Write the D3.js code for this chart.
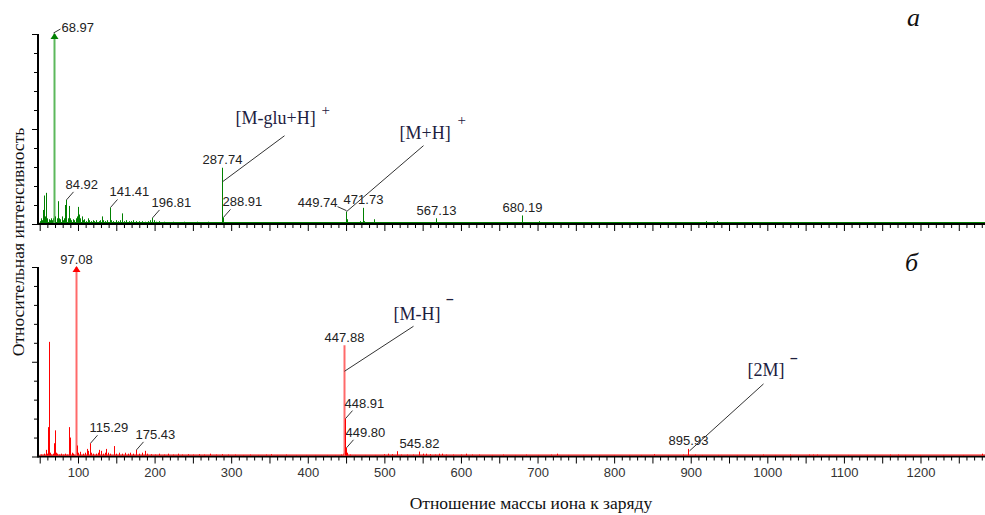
<!DOCTYPE html>
<html><head><meta charset="utf-8">
<script src="https://cdn.jsdelivr.net/npm/d3@7"></script>
<style>
html,body{margin:0;padding:0;background:#fff;}
svg{display:block;}
</style>
</head><body>
<svg id="c" width="985" height="515"></svg>
<script>
// ---------- DATA ----------
// Panel a (positive ions): m/z and relative intensity (%)
const mzA = [50.5,52,53.5,54.7,56,57.5,58.6,60,61.5,63,64.5,66,67.5,68.97,70.5,72,74.3,75.5,77,78.5,80,81.5,82.6,84,84.92,86.5,87.8,89,91,93,95,97,98.5,100,101.5,103,104.8,106.5,108,110,113,115,117,119,121,124,127,129,131,133,135,138,141.41,143,146,149,152,155,157.4,160,163,166,169,172,176,180,184,188,192,194,196.81,199,202,206,212,218,224,230,238,246,255,262,270,278,287.74,288.91,292,300,310,322,333,346,358,372,385,398,412,425,437,446,449.74,451,456,462,468,471.73,474,480,486,495,505,518,530,545,558,567.13,576,590,605,620,636,650,665,680.19,690,702,715,730,755,774,800,830,860,890,920,934,960,990,1020,1050,1080,1110,1140,1170,1200,1230,1260];
const intA = [1.5,3,2,7.4,15,4,16.4,3,2.5,2,3,2,3,100,4,3,12,3,2.5,4,2,3,10,4,12.7,3,9.5,3,2,2.5,2,3,4,9,5,3,4,2,2.5,1.5,3,2,1.5,2,1.5,2,1.5,2,4,2,1.5,2,8.7,2,1.5,2,1.5,2,5.6,1.5,2,1.5,1.5,2,1.5,1.5,1.5,1.2,1.5,2,3.2,2,1.2,1.5,1.2,1,1.2,1,1.2,1,1.2,1,1.2,1,29.6,3.5,1,1,1,0.8,1,0.8,1,0.8,1,0.8,1,0.8,1,1,6.5,2.5,1,1,1.5,8.5,1.5,1,2.5,1,0.8,1,1,0.8,1,3,1,0.8,0.8,0.8,0.8,0.8,1,4.5,1,1.5,0.8,0.8,0.8,1,0.8,0.6,0.6,0.6,1.5,1.5,0.6,0.6,0.6,0.6,0.5,0.6,0.5,0.5,0.5,0.5,0.5];

// Panel б (negative ions)
const mzB = [52,55,57.8,59,60.4,62.1,63.5,65,67,68.7,69.6,71,73,75,78,80,83,86,88.7,90,92,94,97.08,98.7,100.5,103,106,109,112,113.5,115.29,117,120,123,126,128,130,133,135,137,139,142,147,150,154,158,161,165,168,172,175.43,179,183,187,190,195,200,206,212,218,224,230,236,243,250,258,265,272,280,288,296,305,315,325,335,345,352,360,372,385,398,410,425,435,443,446,447.88,448.91,449.8,451,455,462,475,488,500,505,510,516,522,530,538,545.82,550,555,560,566,571,575,580,590,600,606,615,624,640,655,670,685,700,718,725,740,760,780,800,820,835,852,870,890,895.93,897,905,915,935,960,995,1010,1030,1055,1060,1065,1080,1105,1130,1160,1170,1180,1200,1230,1255,1280];
const intB = [1,1.5,3.5,1.5,15.5,60.5,2,1,1.5,7,13.8,2,1.5,1,1.5,1,1.5,1,15.5,10,2,1.5,100,5.8,2,2.5,1.5,2,4,3,7,2,1.5,1.5,2,3.5,3,1.5,2,4,2,1.5,5.5,1.5,2,1.5,2,1.5,2,1.5,3.5,1.5,2,3,1.5,1.2,1,1.5,1,1.5,1,1.5,1,1.2,1,1.2,1,1.5,1,1.2,1,1,0.8,1,0.8,1,1.2,0.8,1,0.8,0.8,0.8,0.8,0.8,1,1.5,58.7,20,4.6,2,1,0.8,0.8,0.8,1.2,1.5,1.2,2.8,1,1,1,2.6,1.5,1.5,1.2,1,1.5,1.5,1,1,1,1.5,1,1,0.8,1,0.8,1,0.8,1,1.5,0.8,0.8,0.8,0.8,0.8,0.8,1.2,0.8,1,4,2,1,0.8,0.8,0.8,1,0.8,1,1,1,1,0.8,0.8,0.8,1,1,0.8,0.8,0.8,0.8,1.5];

// Peak labels (m/z values as printed)
const labelsA = ["68.97","84.92","141.41","196.81","287.74","288.91","449.74","471.73","567.13","680.19"];
const labelsB = ["97.08","115.29","175.43","447.88","448.91","449.80","545.82","895.93"];
// label placement style: c = centered above, ur = leader up-right, r = right, l = left
const labelModeA = ["r","ur","ur","ur","c","ur","l","c","c","c"];
const labelModeB = ["c","ur","ur","c","ur","ur","c","c"];

// Ion annotations
const annotA = [{peak:"287.74", ion:"[M-glu+H]", sign:"+"}, {peak:"449.74", ion:"[M+H]", sign:"+"}];
const annotB = [{peak:"447.88", ion:"[M-H]", sign:"-"}, {peak:"895.93", ion:"[2M]", sign:"-"}];

const xTickLabels = [100,200,300,400,500,600,700,800,900,1000,1100,1200];
const panelLetters = ["a","б"];
const xTitle = "Отношение массы иона к заряду";
const yTitle = "Относительная интенсивность";

// ---------- LAYOUT ----------
const svg = d3.select("#c");
const x = d3.scaleLinear().domain([50, 1285]).range([39.7, 985.6]);
const yA = d3.scaleLinear().domain([0, 100]).range([224, 34]);
const yB = d3.scaleLinear().domain([0, 100]).range([456.5, 267]);
const axisX0 = 38, axisX1 = 985;

const sans = "'Liberation Sans', Arial, sans-serif";
const serif = "'Liberation Serif', 'Times New Roman', serif";

// leader/annotation geometry relative to peak (layout, not data)
const annotGeom = {
  "287.74": {l0:[0,14], l1:[62,-32], t:[13,-44], s:[99,-53]},
  "449.74": {l0:[0,0], l1:[77,-66], t:[53,-73], s:[111,-87]},
  "447.88": {l0:[0,26], l1:[69,-19], t:[49,-25], s:[102,-42]},
  "895.93": {l0:[1,2], l1:[75,-65], t:[59,-73], s:[102,-87]}
};

function panel(mz, inten, y, color, lightColor, labels, modes, annots, showTickLabels) {
  const g = svg.append("g");
  const base = y(0);
  const minor = d3.range(50, 1290, 10).filter(v => v % 50 !== 0);
  const major = d3.range(50, 1290, 50);
  g.append("g").attr("transform", `translate(0,${base})`)
    .call(d3.axisBottom(x).tickValues(minor).tickSize(4).tickFormat(""))
    .call(a => a.select(".domain").remove())
    .call(a => a.selectAll("line").attr("stroke", "#000"));
  const ax = g.append("g").attr("transform", `translate(0,${base})`)
    .call(d3.axisBottom(x).tickValues(major).tickSize(7).tickPadding(4.5)
      .tickFormat(d => (showTickLabels && xTickLabels.includes(d)) ? d : ""))
    .call(a => a.select(".domain").remove());
  ax.selectAll("line").attr("stroke", "#000");
  ax.selectAll("text").attr("font-family", sans).attr("font-size", 13).attr("fill", "#333");
  g.append("g").attr("transform", `translate(${axisX0},0)`)
    .call(d3.axisLeft(y).tickValues(d3.range(10, 100, 10).filter(v => v !== 50)).tickSize(4).tickFormat(""))
    .call(a => a.select(".domain").remove())
    .call(a => a.selectAll("line").attr("stroke", "#000"));
  g.append("g").attr("transform", `translate(${axisX0},0)`)
    .call(d3.axisLeft(y).tickValues([0, 50, 100]).tickSize(6).tickFormat(""))
    .call(a => a.select(".domain").remove())
    .call(a => a.selectAll("line").attr("stroke", "#000"));
  g.append("line").attr("x1", axisX0).attr("x2", axisX0).attr("y1", y(100)).attr("y2", base + 1)
    .attr("stroke", "#000").attr("stroke-width", 2);
  g.append("line").attr("x1", axisX0).attr("x2", axisX1).attr("y1", base).attr("y2", base)
    .attr("stroke", "#000").attr("stroke-width", 2);
  g.append("line").attr("x1", x(50)).attr("x2", axisX1).attr("y1", base - 1.5).attr("y2", base - 1.5)
    .attr("stroke", color).attr("stroke-width", 1);
  const pk = mz.map((m, i) => ({m, v: inten[i]}));
  const labelled = new Set(labels.map(Number));
  const isLight = d => d.v > 50 && labelled.has(d.m);
  g.append("g").selectAll("line").data(pk).join("line")
    .attr("x1", d => Math.round(x(d.m)) + 0.5).attr("x2", d => Math.round(x(d.m)) + 0.5)
    .attr("y1", base - 1).attr("y2", d => y(d.v))
    .attr("stroke", d => isLight(d) ? lightColor : color)
    .attr("stroke-width", d => isLight(d) ? 2 : 1);
  const top = pk.find(d => d.v === 100);
  const tx = Math.round(x(top.m)) + 0.5, ty = y(100);
  g.append("path").attr("d", `M${tx},${ty - 1} L${tx - 4},${ty + 5} L${tx + 4},${ty + 5} Z`).attr("fill", color);

  const findPeak = lab => pk.reduce((b, d) => Math.abs(d.m - +lab) < Math.abs(b.m - +lab) ? d : b);
  labels.forEach((lab, i) => {
    const p = findPeak(lab);
    const px = Math.round(x(p.m)) + 0.5, py = y(p.v);
    const mode = modes[i];
    const t = g.append("text").text(lab).attr("font-family", sans).attr("font-size", 13).attr("fill", "#222");
    if (mode === "c") {
      t.attr("x", px).attr("y", py - 3.5).attr("text-anchor", "middle");
    } else if (mode === "ur") {
      t.attr("x", px - 1).attr("y", py - 11);
      g.append("line").attr("x1", px).attr("y1", py).attr("x2", px + 7).attr("y2", py - 8)
        .attr("stroke", "#333").attr("stroke-width", 1);
    } else if (mode === "r") {
      t.attr("x", px + 7).attr("y", py - 2.5);
      g.append("line").attr("x1", px - 1).attr("y1", py - 1).attr("x2", px + 6).attr("y2", py - 5)
        .attr("stroke", "#333").attr("stroke-width", 1);
    } else if (mode === "l") {
      t.attr("x", px - 9).attr("y", py - 5).attr("text-anchor", "end");
      g.append("line").attr("x1", px - 9).attr("y1", py - 5).attr("x2", px).attr("y2", py - 1)
        .attr("stroke", "#333").attr("stroke-width", 1);
    }
  });
  annots.forEach(a => {
    const p = findPeak(a.peak);
    const px = Math.round(x(p.m)) + 0.5, py = y(p.v);
    const gm = annotGeom[a.peak];
    g.append("line").attr("x1", px + gm.l0[0]).attr("y1", py + gm.l0[1])
      .attr("x2", px + gm.l1[0]).attr("y2", py + gm.l1[1])
      .attr("stroke", "#333").attr("stroke-width", 1);
    g.append("text").text(a.ion).attr("x", px + gm.t[0]).attr("y", py + gm.t[1])
      .attr("font-family", serif).attr("font-size", 18).attr("fill", "#1d2040");
    g.append("text").text(a.sign === "-" ? "\u2012" : "+").attr("x", px + gm.s[0]).attr("y", py + gm.s[1])
      .attr("font-family", a.sign === "-" ? sans : serif).attr("font-size", a.sign === "-" ? 12 : 15)
      .attr("font-weight", a.sign === "-" ? "bold" : "normal").attr("fill", "#1d2040");
  });
}

panel(mzA, intA, yA, "#008000", "#5cb85c", labelsA, labelModeA, annotA, false);
panel(mzB, intB, yB, "#ff0000", "#ff6a6a", labelsB, labelModeB, annotB, true);

svg.append("text").text(panelLetters[0]).attr("x", 907).attr("y", 26)
  .attr("font-family", serif).attr("font-style", "italic").attr("font-size", 26).attr("fill", "#111");
svg.append("text").text(panelLetters[1]).attr("x", 905).attr("y", 271)
  .attr("font-family", serif).attr("font-style", "italic").attr("font-size", 26).attr("fill", "#111");

svg.append("text").text(xTitle).attr("x", 531).attr("y", 509).attr("text-anchor", "middle")
  .attr("font-family", serif).attr("font-size", 17.5).attr("fill", "#111");
svg.append("text").text(yTitle).attr("transform", "translate(24,242) rotate(-90)").attr("text-anchor", "middle")
  .attr("font-family", serif).attr("font-size", 17.5).attr("fill", "#111");
</script>
</body></html>
